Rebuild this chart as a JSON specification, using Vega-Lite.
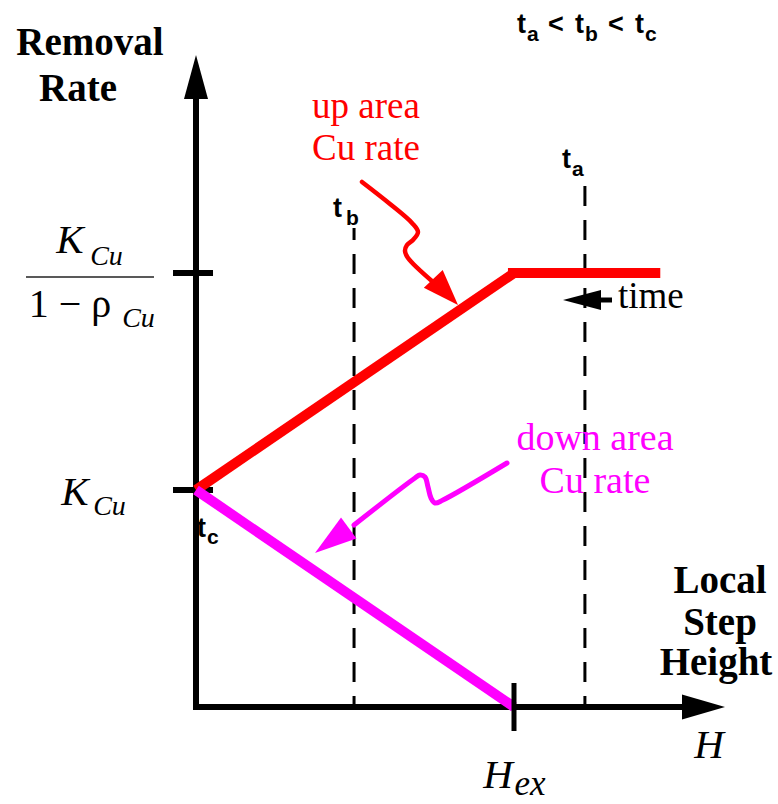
{
  "$schema": "https://vega.github.io/schema/vega-lite/v6.json",
  "width": 778,
  "height": 804,
  "padding": 0,
  "autosize": {"type": "none"},
  "background": "white",
  "config": {"view": {"stroke": null}},
  "datasets": {
    "timeMarkers": [
      {"time": "t_a", "x": 1.223, "y": 0, "y2": 2.438},
      {"time": "t_b", "x": 0.497, "y": 0, "y2": 2.207}
    ],
    "axes": [
      {"x": 0, "y": 2.85, "o": 1},
      {"x": 0, "y": 0, "o": 2},
      {"x": 1.55, "y": 0, "o": 3}
    ],
    "rateTicks": [
      {"level": "K/(1-rho)", "y": 2, "x": -0.0723, "x2": 0.0535},
      {"level": "K", "y": 1, "x": -0.0723, "x2": 0.0535}
    ],
    "fractionBar": [{"y": 1.9816, "x": -0.5346, "x2": -0.1321}],
    "hexTick": [{"x": 1, "y": -0.1106, "y2": 0.1106}],
    "upRate": [
      {"seg": "ramp", "x": 0, "y": 1, "o": 1},
      {"seg": "ramp", "x": 1, "y": 2, "o": 2},
      {"seg": "plateau", "x": 0.981, "y": 2, "o": 1},
      {"seg": "plateau", "x": 1.46, "y": 2, "o": 2}
    ],
    "downRate": [
      {"x": 0, "y": 1, "o": 1},
      {"x": 1, "y": 0, "o": 2}
    ],
    "yArrowTip": [{"x": 0, "y": 3.0046}],
    "xArrowTip": [{"x": 1.6635, "y": 0}],
    "upPointer": [
      {"x": 0.5220, "y": 2.4194, "o": 1},
      {"x": 0.6101, "y": 2.3180, "o": 2},
      {"x": 0.6792, "y": 2.2304, "o": 3},
      {"x": 0.6981, "y": 2.1889, "o": 4},
      {"x": 0.6824, "y": 2.1521, "o": 5},
      {"x": 0.6635, "y": 2.1290, "o": 6},
      {"x": 0.6572, "y": 2.1014, "o": 7},
      {"x": 0.6667, "y": 2.0691, "o": 8},
      {"x": 0.7453, "y": 1.9585, "o": 9}
    ],
    "upPointerTip": [{"x": 0.8239, "y": 1.8525}],
    "downPointer": [
      {"x": 0.9780, "y": 1.1244, "o": 1},
      {"x": 0.7767, "y": 0.9539, "o": 2},
      {"x": 0.7516, "y": 0.9401, "o": 3},
      {"x": 0.7390, "y": 0.9631, "o": 4},
      {"x": 0.7296, "y": 1.0138, "o": 5},
      {"x": 0.7201, "y": 1.0599, "o": 6},
      {"x": 0.7044, "y": 1.0691, "o": 7},
      {"x": 0.6887, "y": 1.0553, "o": 8},
      {"x": 0.4969, "y": 0.8387, "o": 9}
    ],
    "downPointerTip": [{"x": 0.3742, "y": 0.7097}],
    "timeShaft": [{"y": 1.8756, "x": 1.27, "x2": 1.3082}],
    "timeTip": [{"x": 1.1541, "y": 1.8756}],
    "boldTitles": [
      {"label": "Removal", "x": -0.3333, "y": 3.0046},
      {"label": "Rate", "x": -0.3711, "y": 2.7926},
      {"label": "Local", "x": 1.6478, "y": 0.5253},
      {"label": "Step", "x": 1.6478, "y": 0.3318},
      {"label": "Height", "x": 1.6352, "y": 0.1475}
    ],
    "mathMain": [
      {"label": "K", "x": -0.3962, "y": 2.0922},
      {"label": "K", "x": -0.3805, "y": 0.9309},
      {"label": "H", "x": 1.6132, "y": -0.2350},
      {"label": "H", "x": 0.9497, "y": -0.3733}
    ],
    "mathSub": [
      {"label": "Cu", "x": -0.2814, "y": 2.0369},
      {"label": "Cu", "x": -0.1808, "y": 1.7512},
      {"label": "Cu", "x": -0.2720, "y": 0.8848}
    ],
    "hexSub": [{"label": "ex", "x": 1.0503, "y": -0.4055}],
    "denominator": [{"label": "1 − ρ", "x": -0.3962, "y": 1.7972}],
    "upLabel": [
      {"label": "up area", "x": 0.5346, "y": 2.7143},
      {"label": "Cu rate", "x": 0.5346, "y": 2.5207}
    ],
    "downLabel": [
      {"label": "down area", "x": 1.2547, "y": 1.1843},
      {"label": "Cu rate", "x": 1.2547, "y": 0.9862}
    ],
    "timeLabel": [{"label": "time", "x": 1.3270, "y": 1.8387}],
    "tMain": [
      {"label": "t", "x": 1.0094, "y": 3.1060},
      {"label": "<", "x": 1.1069, "y": 3.1060},
      {"label": "t", "x": 1.1918, "y": 3.1060},
      {"label": "<", "x": 1.2956, "y": 3.1060},
      {"label": "t", "x": 1.3805, "y": 3.1060},
      {"label": "t", "x": 1.1509, "y": 2.4839},
      {"label": "t", "x": 0.4308, "y": 2.2581},
      {"label": "t", "x": 0.0031, "y": 0.7834}
    ],
    "tSub": [
      {"label": "a", "x": 1.0409, "y": 3.0691},
      {"label": "b", "x": 1.2233, "y": 3.0691},
      {"label": "c", "x": 1.4119, "y": 3.0691},
      {"label": "a", "x": 1.1824, "y": 2.4470},
      {"label": "b", "x": 0.4717, "y": 2.2212},
      {"label": "c", "x": 0.0346, "y": 0.7512}
    ]
  },
  "encoding": {
    "x": {"field": "x", "type": "quantitative", "scale": {"domain": [-0.61635, 1.83019], "nice": false, "zero": false}, "axis": null},
    "y": {"field": "y", "type": "quantitative", "scale": {"domain": [-0.44700, 3.25806], "nice": false, "zero": false}, "axis": null}
  },
  "layer": [
    {
      "data": {"name": "timeMarkers"},
      "mark": {"type": "rule", "color": "black", "strokeWidth": 3, "strokeDash": [20, 14], "strokeDashOffset": 9},
      "encoding": {"y2": {"field": "y2"}}
    },
    {
      "data": {"name": "axes"},
      "mark": {"type": "line", "color": "black", "strokeWidth": 6, "strokeJoin": "miter"},
      "encoding": {"order": {"field": "o", "type": "quantitative"}}
    },
    {
      "data": {"name": "rateTicks"},
      "mark": {"type": "rule", "color": "black", "strokeWidth": 6},
      "encoding": {"x2": {"field": "x2"}}
    },
    {
      "data": {"name": "fractionBar"},
      "mark": {"type": "rule", "color": "#222222", "strokeWidth": 1.6},
      "encoding": {"x2": {"field": "x2"}}
    },
    {
      "data": {"name": "upRate"},
      "mark": {"type": "line", "color": "#ff0000", "strokeWidth": 10},
      "encoding": {"detail": {"field": "seg"}, "order": {"field": "o", "type": "quantitative"}}
    },
    {
      "data": {"name": "downRate"},
      "mark": {"type": "line", "color": "#ff00ff", "strokeWidth": 10},
      "encoding": {"order": {"field": "o", "type": "quantitative"}}
    },
    {
      "data": {"name": "hexTick"},
      "mark": {"type": "rule", "color": "black", "strokeWidth": 5},
      "encoding": {"y2": {"field": "y2"}}
    },
    {
      "data": {"name": "yArrowTip"},
      "mark": {"type": "point", "shape": "M0,0L-12,44L12,44Z", "size": 4, "filled": true, "color": "black", "opacity": 1}
    },
    {
      "data": {"name": "xArrowTip"},
      "mark": {"type": "point", "shape": "M0,0L-43,-12.5L-43,12.5Z", "size": 4, "filled": true, "color": "black", "opacity": 1}
    },
    {
      "data": {"name": "upPointer"},
      "mark": {"type": "line", "color": "#ff0000", "strokeWidth": 4.5, "interpolate": "catmull-rom", "strokeCap": "round"},
      "encoding": {"order": {"field": "o", "type": "quantitative"}}
    },
    {
      "data": {"name": "upPointerTip"},
      "mark": {"type": "point", "shape": "M0,0L-13,36L13,36Z", "size": 4, "angle": 136.6, "filled": true, "color": "#ff0000", "opacity": 1}
    },
    {
      "data": {"name": "downPointer"},
      "mark": {"type": "line", "color": "#ff00ff", "strokeWidth": 5, "interpolate": "catmull-rom", "strokeCap": "round"},
      "encoding": {"order": {"field": "o", "type": "quantitative"}}
    },
    {
      "data": {"name": "downPointerTip"},
      "mark": {"type": "point", "shape": "M0,0L-13,42L13,42Z", "size": 4, "angle": 233.5, "filled": true, "color": "#ff00ff", "opacity": 1}
    },
    {
      "data": {"name": "timeShaft"},
      "mark": {"type": "rule", "color": "black", "strokeWidth": 5},
      "encoding": {"x2": {"field": "x2"}}
    },
    {
      "data": {"name": "timeTip"},
      "mark": {"type": "point", "shape": "M0,0L38,-10L38,10Z", "size": 4, "filled": true, "color": "black", "opacity": 1}
    },
    {
      "data": {"name": "boldTitles"},
      "mark": {"type": "text", "font": "Liberation Serif", "fontWeight": "bold", "fontSize": 39, "align": "center", "baseline": "alphabetic", "color": "black"},
      "encoding": {"text": {"field": "label"}}
    },
    {
      "data": {"name": "mathMain"},
      "mark": {"type": "text", "font": "Liberation Serif", "fontStyle": "italic", "fontSize": 41, "align": "center", "baseline": "alphabetic", "color": "black"},
      "encoding": {"text": {"field": "label"}}
    },
    {
      "data": {"name": "mathSub"},
      "mark": {"type": "text", "font": "Liberation Serif", "fontStyle": "italic", "fontSize": 28, "align": "center", "baseline": "alphabetic", "color": "black"},
      "encoding": {"text": {"field": "label"}}
    },
    {
      "data": {"name": "hexSub"},
      "mark": {"type": "text", "font": "Liberation Serif", "fontStyle": "italic", "fontSize": 35, "align": "center", "baseline": "alphabetic", "color": "black"},
      "encoding": {"text": {"field": "label"}}
    },
    {
      "data": {"name": "denominator"},
      "mark": {"type": "text", "font": "Liberation Serif", "fontSize": 40, "align": "center", "baseline": "alphabetic", "color": "black"},
      "encoding": {"text": {"field": "label"}}
    },
    {
      "data": {"name": "upLabel"},
      "mark": {"type": "text", "font": "Liberation Serif", "fontSize": 37, "align": "center", "baseline": "alphabetic", "color": "#ff0000"},
      "encoding": {"text": {"field": "label"}}
    },
    {
      "data": {"name": "downLabel"},
      "mark": {"type": "text", "font": "Liberation Serif", "fontSize": 38, "align": "center", "baseline": "alphabetic", "color": "#ff00ff"},
      "encoding": {"text": {"field": "label"}}
    },
    {
      "data": {"name": "timeLabel"},
      "mark": {"type": "text", "font": "Liberation Serif", "fontSize": 37, "align": "left", "baseline": "alphabetic", "color": "black"},
      "encoding": {"text": {"field": "label"}}
    },
    {
      "data": {"name": "tMain"},
      "mark": {"type": "text", "font": "Liberation Sans", "fontWeight": "bold", "fontSize": 27, "align": "left", "baseline": "alphabetic", "color": "black"},
      "encoding": {"text": {"field": "label"}}
    },
    {
      "data": {"name": "tSub"},
      "mark": {"type": "text", "font": "Liberation Sans", "fontWeight": "bold", "fontSize": 21, "align": "left", "baseline": "alphabetic", "color": "black"},
      "encoding": {"text": {"field": "label"}}
    }
  ]
}
